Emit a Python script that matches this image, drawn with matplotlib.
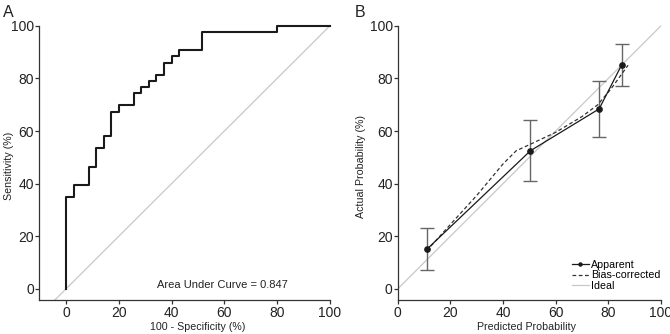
import matplotlib
matplotlib.use('Agg')
import matplotlib.pyplot as plt

plt.rcParams['font.family'] = ['Liberation Sans', 'DejaVu Sans']
plt.rcParams['font.size'] = 8

# panel A: ROC curve (100 - specificity, sensitivity)
fpr = [0, 0, 2.9, 8.6, 11.4, 14.3, 17.1, 20.0, 25.7, 28.6, 31.4, 34.3,
       37.1, 40.0, 42.9, 51.4, 80.0, 100]
tpr = [0, 34.9, 39.5, 46.5, 53.5, 58.1, 67.4, 69.8, 74.4, 76.7, 79.1, 81.4,
       86.0, 88.4, 90.7, 97.7, 100, 100]
auc_text = 'Area Under Curve = 0.847'

# panel B: calibration
pred = [11.0, 50.4, 76.5, 85.0]
actual = [15.0, 52.5, 68.4, 85.0]
lower = [7.2, 41.0, 57.8, 77.0]
upper = [23.0, 64.2, 79.1, 92.9]
bc_x = [11.0, 20, 30, 40, 45, 50, 60, 70, 76, 81, 87.5]
bc_y = [14.5, 24.5, 35.5, 47.5, 52.5, 54.8, 59.5, 65.5, 70, 76, 85]
ideal = [0, 100]
ticks = [0, 20, 40, 60, 80, 100]

fig = plt.figure(figsize=(6.7, 3.34), dpi=100)
axA = fig.add_axes([0.0582, 0.1018, 0.4343, 0.8527])
axB = fig.add_axes([0.5936, 0.1018, 0.393, 0.8527])

edge = '#333333'
txt = '#222222'
for ax in (axA, axB):
    for s in ['top', 'right']:
        ax.spines[s].set_visible(False)
    for s in ['left', 'bottom']:
        ax.spines[s].set_color(edge)
        ax.spines[s].set_linewidth(0.9)
    ax.set_xticks(ticks)
    ax.set_yticks(ticks)
    ax.tick_params(direction='out', length=2.6, width=0.9, color=edge,
                   labelsize=10, labelcolor=txt)
    ax.tick_params(axis='y', pad=1)
    ax.tick_params(axis='x', pad=1.5)
    ax.set_ylim(-4.2, 104)
    ax.spines['left'].set_bounds(-4.2, 100)

# A
axA.set_xlim(-10.2, 100)
axA.plot([-20, 120], [-20, 120], color='#c8c8c8', lw=0.9)
axA.step(fpr, tpr, where='post', color='#1a1a1a', lw=1.5, clip_on=False)
axA.text(59.3, 1.5, auc_text, ha='center', va='center', fontsize=8, color=txt)
axA.set_xlabel('100 - Specificity (%)', fontsize=7.7, color=txt)
axA.set_ylabel('Sensitivity (%)', fontsize=7.7, color=txt)
axA.xaxis.set_label_coords(0.545, -0.076)
axA.yaxis.set_label_coords(-0.086, 0.47)

# B
axB.set_xlim(0, 100)
axB.plot(ideal, ideal, color='#c8c8c8', lw=0.9, label='Ideal', zorder=1)
axB.errorbar(pred, actual,
             yerr=[[a - l for a, l in zip(actual, lower)], [u - a for a, u in zip(actual, upper)]],
             fmt='none', ecolor='#666666', elinewidth=1, capsize=5, capthick=1, zorder=2)
axB.plot(bc_x, bc_y, color='#333333', lw=0.9, ls=(0, (3, 2)), label='Bias-corrected', zorder=3)
axB.plot(pred, actual, color='#1a1a1a', lw=0.9, marker='o', ms=3.8, label='Apparent', zorder=4)
axB.set_xlabel('Predicted Probability', fontsize=7.7, color=txt)
axB.set_ylabel('Actual Probability (%)', fontsize=7.7, color=txt)
axB.xaxis.set_label_coords(0.49, -0.076)
axB.yaxis.set_label_coords(-0.12, 0.47)

h, l = axB.get_legend_handles_labels()
leg = axB.legend(h[::-1], l[::-1], loc='lower left', bbox_to_anchor=(0.661, 0.032),
                 frameon=False, fontsize=7.7, handlelength=1.6, handletextpad=0.2,
                 labelspacing=0.06, borderaxespad=0, borderpad=0)
leg.legend_handles[0].set_markersize(2.2)

fig.text(0.004, 0.985, 'A', fontsize=11.5, va='top', ha='left', color=txt)
fig.text(0.53, 0.985, 'B', fontsize=11.5, va='top', ha='left', color=txt)

fig.savefig('out.png', dpi=100)
